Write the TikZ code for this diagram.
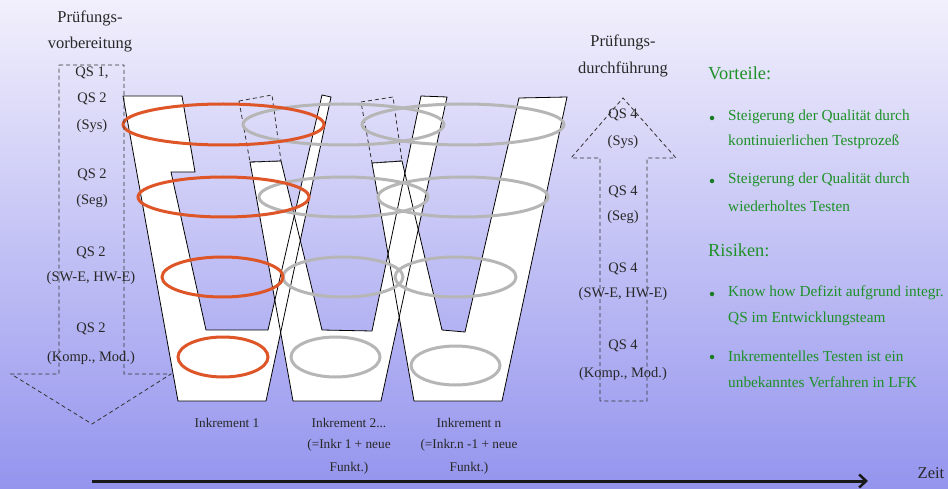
\documentclass[tikz,border=0pt]{standalone}
\usepackage{fontspec}
\setmainfont{Liberation Serif}
\usetikzlibrary{arrows.meta}
\definecolor{bgtop}{RGB}{242,240,252}
\definecolor{bgbot}{RGB}{148,148,238}
\definecolor{orangeE}{RGB}{222,86,40}
\definecolor{grayE}{RGB}{182,182,182}
\definecolor{greenT}{RGB}{30,145,40}
\definecolor{dashC}{RGB}{50,50,50}
\definecolor{txtC}{RGB}{40,40,40}
\tikzset{
  dashbox/.style={draw=dashC,line width=0.8pt,dash pattern=on 4pt off 3pt},
  ringO/.style={draw=orangeE,line width=3pt},
  ringG/.style={draw=grayE,line width=3pt},
  lbl/.style={text=txtC,inner sep=0pt,font=\fontsize{14.5}{16}\selectfont},
  hdr/.style={text=txtC,inner sep=0pt,font=\fontsize{16.5}{18}\selectfont},
  inc/.style={text=txtC,inner sep=0pt,font=\fontsize{13.3}{15}\selectfont},
  gtitle/.style={text=greenT,inner sep=0pt,anchor=west,font=\fontsize{18.4}{20}\selectfont},
  gtext/.style={text=greenT,inner sep=0pt,anchor=west,font=\fontsize{15.3}{17}\selectfont},
  gdot/.style={circle,fill=greenT!85!black,minimum size=4.5pt,inner sep=0pt},
}
\begin{document}
\begin{tikzpicture}[x=1pt,y=-1pt]
\useasboundingbox (0,0) rectangle (948,489);
\shade[top color=bgtop,bottom color=bgbot] (0,0) rectangle (948,489);

% V shapes (fills)
\fill[white] (123,96) -- (182,96) -- (195,172) -- (171,172) -- (206,330) -- (268,330) -- (322,95) -- (331,97) -- (266,401) -- (178,401) -- cycle;
\fill[white] (250,162) -- (281,161) -- (322,330) -- (372,331) -- (421,96) -- (447,97) -- (381,401) -- (293,401) -- cycle;
\fill[white] (372,163) -- (402,161) -- (442,330) -- (465,332) -- (519,98) -- (567,97) -- (502,401) -- (414,401) -- cycle;
% outlines
\draw[black,line width=0.8pt] (123,96) -- (182,96) -- (195,172) -- (171,172) -- (206,330) -- (268,330) -- (322,95) -- (331,97) -- (266,401) -- (178,401) -- cycle;
\draw[black,line width=0.8pt] (250,162) -- (281,161) -- (322,330) -- (372,331) -- (421,96) -- (447,97) -- (381,401) -- (293,401) -- cycle;
\draw[black,line width=0.8pt] (372,163) -- (402,161) -- (442,330) -- (465,332) -- (519,98) -- (567,97) -- (502,401) -- (414,401) -- cycle;

% dashed extensions
\draw[dashbox] (239,101) -- (272,95) -- (281,161) -- (250,162) -- cycle;
\draw[dashbox] (361,102) -- (393,97) -- (402,161) -- (372,163) -- cycle;

% gray rings
\draw[ringG] (343.5,124.5) ellipse [x radius=100.5pt, y radius=20.5pt];
\draw[ringG] (463,124.5) ellipse [x radius=101pt, y radius=20.5pt];
\draw[ringG] (343.5,197) ellipse [x radius=84.5pt, y radius=20pt];
\draw[ringG] (463,197) ellipse [x radius=85pt, y radius=20pt];
\draw[ringG] (343,277) ellipse [x radius=60pt, y radius=20pt];
\draw[ringG] (455.5,277) ellipse [x radius=60.5pt, y radius=20pt];
\draw[ringG] (335.5,357) ellipse [x radius=44.5pt, y radius=20pt];
\draw[ringG] (455.5,365.5) ellipse [x radius=44.5pt, y radius=19.5pt];
% orange rings
\draw[ringO] (223.5,124.5) ellipse [x radius=100.5pt, y radius=20.5pt];
\draw[ringO] (223.5,197) ellipse [x radius=85.5pt, y radius=20pt];
\draw[ringO] (222.5,277) ellipse [x radius=60.5pt, y radius=20pt];
\draw[ringO] (223,357) ellipse [x radius=45pt, y radius=20pt];

% left dashed down arrow
\draw[dashbox] (59,65) -- (124,65) -- (124,374) -- (171,374) -- (92,424) -- (11,374) -- (59,374) -- cycle;
% right dashed up arrow
\draw[dashbox] (600,401) -- (600,158) -- (571,158) -- (623,98) -- (676,158) -- (647,158) -- (647,401) -- cycle;

% left labels
\node[hdr] (lh1) at (90,18) {Prüfungs-};
\node[hdr] (lh2) at (90,45) {vorbereitung};
\node[lbl] (l1) at (92,73) {QS 1,};
\node[lbl] (l2) at (92,99) {QS 2};
\node[lbl] (l3) at (92,126) {(Sys)};
\node[lbl] (l4) at (92,175) {QS 2};
\node[lbl] (l5) at (92,201) {(Seg)};
\node[lbl] (l6) at (91,253) {QS 2};
\node[lbl] (l7) at (91,278) {(SW-E, HW-E)};
\node[lbl] (l8) at (91,329) {QS 2};
\node[lbl] (l9) at (91,358) {(Komp., Mod.)};

% right labels
\node[hdr] (rh1) at (623,42) {Prüfungs-};
\node[hdr] (rh2) at (623,69) {durchführung};
\node[lbl] (r1) at (623,115) {QS 4};
\node[lbl] (r2) at (623,142) {(Sys)};
\node[lbl] (r3) at (623,192) {QS 4};
\node[lbl] (r4) at (623,217) {(Seg)};
\node[lbl] (r5) at (623,269) {QS 4};
\node[lbl] (r6) at (623,294) {(SW-E, HW-E)};
\node[lbl] (r7) at (623,346) {QS 4};
\node[lbl] (r8) at (623,374) {(Komp., Mod.)};

% increment labels
\node[inc] (i1) at (227,423) {Inkrement 1};
\node[inc] (i2a) at (349,423) {Inkrement 2...};
\node[inc] (i2b) at (349,445) {(=Inkr 1 + neue};
\node[inc] (i2c) at (349,468) {Funkt.)};
\node[inc] (i3a) at (469,423) {Inkrement n};
\node[inc] (i3b) at (469,445) {(=Inkr.n -1 + neue};
\node[inc] (i3c) at (469,468) {Funkt.)};

% green text
\node[gtitle] (vt) at (708,73) {Vorteile:};
\node[gdot] (b1) at (712,118) {};
\node[gtext] (v1a) at (728,117) {Steigerung der Qualität durch};
\node[gtext] (v1b) at (728,142) {kontinuierlichen Testprozeß};
\node[gdot] (b2) at (712,181) {};
\node[gtext] (v2a) at (728,180) {Steigerung der Qualität durch};
\node[gtext] (v2b) at (728,206) {wiederholtes Testen};
\node[gtitle] (rt) at (708,250) {Risiken:};
\node[gdot] (b3) at (712,294) {};
\node[gtext] (r1a) at (728,293) {Know how Defizit aufgrund integr.};
\node[gtext] (r1b) at (728,319) {QS im Entwicklungsteam};
\node[gdot] (b4) at (712,357) {};
\node[gtext] (r2a) at (728,356) {Inkrementelles Testen ist ein};
\node[gtext] (r2b) at (728,382) {unbekanntes Verfahren in LFK};

% time axis
\coordinate (t0) at (92,481);
\coordinate (t1) at (868,481);
\draw[line width=3pt,black!90,-{Straight Barb[length=7pt,width=13pt,line width=2.5pt]}] (t0) -- (t1);
\node[hdr,text=txtC] (zeit) at (931,473) {Zeit};
\end{tikzpicture}
\end{document}
